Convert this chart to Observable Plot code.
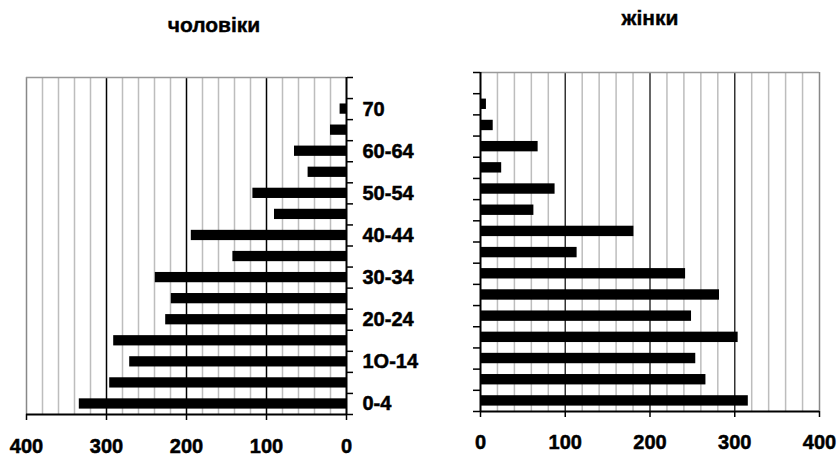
<!DOCTYPE html>
<html>
<head>
<meta charset="utf-8">
<script src="https://cdn.jsdelivr.net/npm/d3@7"></script>
<script src="https://cdn.jsdelivr.net/npm/@observablehq/plot@0.6"></script>
<style>
  body { margin: 0; background: #fff; }
  #wrap { position: relative; width: 840px; height: 456px; font-family: "Liberation Sans", Arial, sans-serif; }
  .panel { position: absolute; top: 0; }
  .panel text { stroke: #000; stroke-width: 0.5px; }
  .title { position: absolute; font-weight: bold; font-size: 21px; line-height: 21px; transform: translateX(-50%); white-space: nowrap; -webkit-text-stroke: 0.4px #000; }
</style>
</head>
<body>
<div id="wrap"></div>
<script>
const ages = ["0-4","5-9","10-14","15-19","20-24","25-29","30-34","35-39","40-44","45-49","50-54","55-59","60-64","65-69","70"];
const ageLabels = ["0-4","","1O-14","","20-24","","30-34","","40-44","","50-54","","60-64","","70"];
const men = [334, 296, 271, 291, 226, 219, 239, 142, 194, 90, 117, 48, 65, 20, 8];
const women = [316, 266, 254, 304, 249, 282, 242, 114, 181, 63, 88, 25, 68, 15, 7];
const xTicks = [0, 100, 200, 300, 400];
const titleMen = "чоловіки";
const titleWomen = "жінки";

const nBands = ages.length + 1; // one empty band on top
const bandEdges = d3.range(0, nBands + 1);
const minorGrid = d3.range(20, 400, 20).filter(v => v % 100 !== 0);
const majorGrid = [100, 200, 300];

const menData = ages.map((a, i) => ({age: a, i, value: men[i]}));
const womenData = ages.map((a, i) => ({age: a, i, value: women[i]}));
const labelData = ageLabels.map((t, i) => ({t, i})).filter(d => d.t !== "");

const font = "Liberation Sans, Arial, sans-serif";
const wrap = document.getElementById("wrap");

const left = Plot.plot({
  width: 420, height: 456,
  marginLeft: 26, marginRight: 74, marginTop: 77, marginBottom: 42,
  style: {fontFamily: font, background: "white", overflow: "visible"},
  x: {type: "linear", domain: [0, 400], reverse: true, label: null},
  y: {type: "linear", domain: [0, nBands], label: null},
  marks: [
    Plot.ruleX(minorGrid, {stroke: "#bdbdbd", strokeWidth: 1.5}),
    Plot.ruleX(majorGrid, {stroke: "#000", strokeWidth: 1.5}),
    Plot.ruleX([400], {stroke: "#888", strokeWidth: 1.5}),
    Plot.ruleY([nBands], {stroke: "#999", strokeWidth: 1.5}),
    Plot.rect(menData, {x1: 0, x2: "value", y1: "i", y2: d => d.i + 1, insetTop: 5.4, insetBottom: 5.4, fill: "#000"}),
    Plot.ruleX([0], {stroke: "#000", strokeWidth: 2}),
    Plot.ruleY([0], {stroke: "#000", strokeWidth: 2}),
    Plot.axisY({anchor: "right", ticks: bandEdges, tickSize: 6, tickFormat: () => "", strokeWidth: 1.5, label: null}),
    Plot.text(labelData, {x: 0, y: d => d.i + 0.5, text: "t", textAnchor: "start", dx: 16, fontSize: 20, fontWeight: "bold", fill: "#000"}),
    Plot.axisX({anchor: "bottom", ticks: xTicks, tickSize: 6, tickPadding: 18, fontSize: 20, fontWeight: "bold", strokeWidth: 1.5, tickFormat: d => String(d), label: null})
  ]
});
left.classList.add("panel");
left.style.left = "0px";
wrap.appendChild(left);

const right = Plot.plot({
  width: 420, height: 456,
  marginLeft: 60, marginRight: 21, marginTop: 72, marginBottom: 45,
  style: {fontFamily: font, background: "transparent", overflow: "visible"},
  x: {type: "linear", domain: [0, 400], label: null},
  y: {type: "linear", domain: [0, nBands], label: null},
  marks: [
    Plot.ruleX(minorGrid, {stroke: "#bdbdbd", strokeWidth: 1.5}),
    Plot.ruleX(majorGrid, {stroke: "#333", strokeWidth: 1.5}),
    Plot.ruleX([400], {stroke: "#888", strokeWidth: 1.5}),
    Plot.ruleY([nBands], {stroke: "#999", strokeWidth: 1.5}),
    Plot.rect(womenData, {x1: 0, x2: "value", y1: "i", y2: d => d.i + 1, insetTop: 5.4, insetBottom: 5.4, fill: "#000"}),
    Plot.ruleX([0], {stroke: "#000", strokeWidth: 2}),
    Plot.ruleY([0], {stroke: "#000", strokeWidth: 2}),
    Plot.axisY({anchor: "left", ticks: bandEdges, tickSize: 7, tickFormat: () => "", strokeWidth: 1.5, label: null}),
    Plot.axisX({anchor: "bottom", ticks: xTicks, tickSize: 6, tickPadding: 17, fontSize: 20, fontWeight: "bold", strokeWidth: 1.5, tickFormat: d => String(d), label: null})
  ]
});
right.classList.add("panel");
right.style.left = "420px";
wrap.appendChild(right);

function addTitle(text, cx, top) {
  const d = document.createElement("div");
  d.className = "title";
  d.textContent = text;
  d.style.left = cx + "px";
  d.style.top = top + "px";
  wrap.appendChild(d);
}
addTitle(titleMen, 214, 14);
addTitle(titleWomen, 650, 7);
</script>
</body>
</html>
